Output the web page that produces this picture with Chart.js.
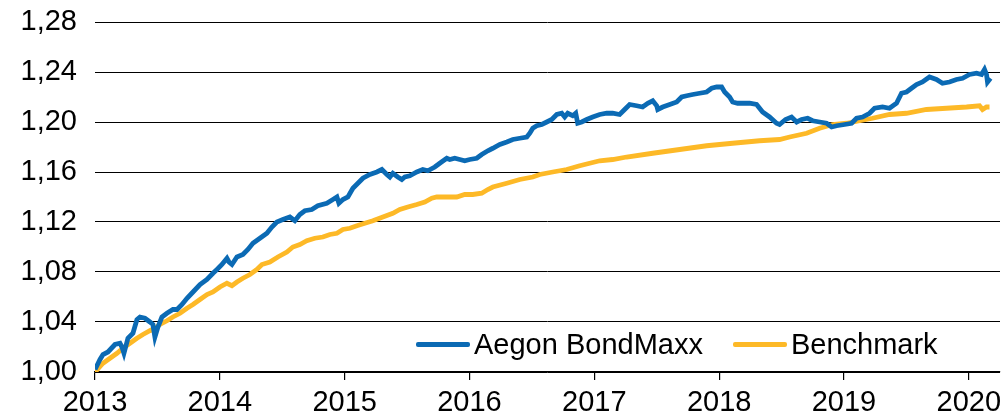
<!DOCTYPE html>
<html>
<head>
<meta charset="utf-8">
<script src="https://cdn.jsdelivr.net/npm/chart.js@4.4.1/dist/chart.umd.min.js"></script>
<style>
  html, body { margin: 0; padding: 0; background: #fff; }
  #wrap { position: relative; width: 1005px; height: 420px; }
  #legend { position: absolute; left: 416px; top: 326px; height: 36px; display: flex; align-items: center;
            font-family: "Liberation Sans", Arial, sans-serif; font-size: 29px; color: #000; white-space: nowrap; }
  .sw { display: inline-block; width: 54px; height: 5px; border-radius: 2px; margin-right: 4px; }
  .it { display: flex; align-items: center; }
</style>
</head>
<body>
<div id="wrap">
  <canvas id="c" width="1005" height="420"></canvas>
  <div id="legend"></div>
</div>
<script>
// ---- data (decimal year, index value) ----
const fundName = "Aegon BondMaxx";
const benchName = "Benchmark";
const yearTicks = [2013, 2014, 2015, 2016, 2017, 2018, 2019, 2020];
const valueTicks = [1.00, 1.04, 1.08, 1.12, 1.16, 1.20, 1.24, 1.28];

const fundX = [2013.000,2013.040,2013.064,2013.104,2013.160,2013.200,2013.216,2013.232,2013.264,2013.304,2013.336,2013.360,2013.400,2013.440,2013.464,2013.480,2013.504,2013.536,2013.576,2013.624,2013.657,2013.697,2013.737,2013.785,2013.841,2013.897,2013.945,2013.977,2014.017,2014.057,2014.073,2014.097,2014.137,2014.185,2014.225,2014.265,2014.321,2014.377,2014.417,2014.457,2014.505,2014.561,2014.601,2014.641,2014.681,2014.737,2014.785,2014.857,2014.906,2014.938,2014.954,2014.986,2015.026,2015.066,2015.106,2015.146,2015.202,2015.258,2015.298,2015.338,2015.362,2015.386,2015.426,2015.458,2015.482,2015.522,2015.578,2015.626,2015.666,2015.722,2015.762,2015.818,2015.842,2015.882,2015.922,2015.962,2016.002,2016.058,2016.098,2016.147,2016.187,2016.243,2016.299,2016.347,2016.403,2016.459,2016.483,2016.507,2016.539,2016.579,2016.619,2016.659,2016.699,2016.739,2016.763,2016.787,2016.827,2016.851,2016.867,2016.899,2016.939,2016.987,2017.043,2017.099,2017.147,2017.203,2017.243,2017.283,2017.339,2017.387,2017.428,2017.468,2017.500,2017.508,2017.548,2017.604,2017.660,2017.700,2017.740,2017.788,2017.844,2017.900,2017.940,2017.980,2018.020,2018.044,2018.084,2018.108,2018.148,2018.188,2018.244,2018.300,2018.348,2018.404,2018.460,2018.484,2018.532,2018.580,2018.621,2018.661,2018.709,2018.749,2018.805,2018.861,2018.901,2018.941,2019.005,2019.061,2019.101,2019.149,2019.205,2019.245,2019.309,2019.365,2019.421,2019.461,2019.501,2019.541,2019.581,2019.629,2019.685,2019.741,2019.789,2019.845,2019.901,2019.950,2020.006,2020.062,2020.102,2020.126,2020.142,2020.150,2020.174];
const fundY = [1.002,1.010,1.014,1.016,1.022,1.023,1.020,1.015,1.027,1.031,1.042,1.044,1.043,1.040,1.038,1.028,1.036,1.044,1.047,1.050,1.050,1.054,1.059,1.064,1.070,1.074,1.079,1.082,1.086,1.091,1.088,1.086,1.092,1.094,1.098,1.103,1.107,1.111,1.116,1.120,1.122,1.124,1.121,1.126,1.129,1.130,1.133,1.135,1.138,1.140,1.135,1.138,1.140,1.147,1.151,1.155,1.158,1.160,1.162,1.158,1.156,1.159,1.156,1.154,1.156,1.157,1.160,1.162,1.161,1.164,1.167,1.171,1.170,1.171,1.170,1.169,1.170,1.171,1.174,1.177,1.179,1.182,1.184,1.186,1.187,1.188,1.191,1.195,1.197,1.198,1.200,1.202,1.206,1.207,1.204,1.207,1.205,1.207,1.199,1.200,1.202,1.204,1.206,1.207,1.207,1.206,1.210,1.214,1.213,1.212,1.215,1.217,1.213,1.210,1.212,1.214,1.216,1.220,1.221,1.222,1.223,1.224,1.227,1.228,1.228,1.224,1.220,1.216,1.215,1.215,1.215,1.214,1.208,1.204,1.199,1.198,1.202,1.204,1.200,1.202,1.203,1.201,1.200,1.199,1.196,1.197,1.198,1.199,1.203,1.204,1.207,1.211,1.212,1.211,1.215,1.223,1.224,1.227,1.230,1.232,1.236,1.234,1.231,1.232,1.234,1.235,1.238,1.239,1.238,1.242,1.238,1.232,1.235];

const benchX = [2013.000,2013.064,2013.120,2013.176,2013.224,2013.280,2013.336,2013.384,2013.440,2013.480,2013.520,2013.576,2013.624,2013.681,2013.737,2013.785,2013.841,2013.897,2013.945,2014.001,2014.057,2014.097,2014.137,2014.185,2014.241,2014.297,2014.337,2014.401,2014.465,2014.537,2014.585,2014.641,2014.697,2014.761,2014.825,2014.882,2014.938,2014.986,2015.042,2015.098,2015.162,2015.226,2015.306,2015.386,2015.442,2015.506,2015.578,2015.642,2015.698,2015.738,2015.818,2015.898,2015.962,2016.026,2016.098,2016.147,2016.187,2016.299,2016.403,2016.507,2016.563,2016.667,2016.779,2016.883,2016.963,2017.043,2017.147,2017.259,2017.468,2017.684,2017.900,2018.108,2018.324,2018.484,2018.565,2018.701,2018.805,2018.909,2019.021,2019.125,2019.229,2019.365,2019.501,2019.661,2019.821,2019.982,2020.086,2020.110,2020.142,2020.166];
const benchY = [1.000,1.007,1.011,1.015,1.019,1.023,1.027,1.030,1.033,1.035,1.038,1.041,1.044,1.047,1.051,1.054,1.058,1.062,1.064,1.068,1.071,1.069,1.072,1.075,1.078,1.082,1.086,1.088,1.092,1.096,1.100,1.102,1.105,1.107,1.108,1.110,1.111,1.114,1.115,1.117,1.119,1.121,1.124,1.127,1.130,1.132,1.134,1.136,1.139,1.140,1.140,1.140,1.142,1.142,1.143,1.146,1.148,1.151,1.154,1.156,1.158,1.160,1.162,1.165,1.167,1.169,1.170,1.172,1.175,1.178,1.181,1.183,1.185,1.186,1.188,1.191,1.195,1.198,1.199,1.201,1.203,1.206,1.207,1.210,1.211,1.212,1.213,1.210,1.212,1.212];

const fundColor = "#0B6AB4";
const benchColor = "#FDB927";

const toPts = (xs, ys) => xs.map((x, i) => ({ x: x, y: ys[i] }));
const FONT = { family: "'Liberation Sans', Arial, sans-serif", size: 29 };

Chart.defaults.font.family = FONT.family;
Chart.defaults.color = "#000";

new Chart(document.getElementById("c"), {
  type: "line",
  data: {
    datasets: [
      { label: fundName, data: toPts(fundX, fundY), borderColor: fundColor, borderWidth: 4.8,
        pointRadius: 0, tension: 0, fill: false },
      { label: benchName, data: toPts(benchX, benchY), borderColor: benchColor, borderWidth: 4.8,
        pointRadius: 0, tension: 0, fill: false }
    ]
  },
  options: {
    responsive: false,
    animation: false,
    layout: { padding: { top: 22, right: 5, bottom: 0, left: 0 } },
    plugins: { legend: { display: false }, tooltip: { enabled: false } },
    scales: {
      x: {
        type: "linear",
        min: 2013, max: 2020.25,
        afterBuildTicks: s => { s.ticks = yearTicks.map(v => ({ value: v })); },
        afterFit: s => { s.height = 48; s.paddingLeft = 0; s.paddingRight = 0; },
        ticks: { font: FONT, color: "#000", padding: 6, maxRotation: 0, autoSkip: false,
                 callback: v => String(v) },
        grid: { drawOnChartArea: false, drawTicks: true, tickLength: 8, color: "#000", lineWidth: 1.2 },
        border: { display: true, color: "#000", width: 1.2 }
      },
      y: {
        min: 1.00, max: 1.28,
        afterBuildTicks: s => { s.ticks = valueTicks.map(v => ({ value: v })); },
        afterFit: s => { s.width = 95; s.paddingTop = 0; s.paddingBottom = 0; },
        ticks: { font: FONT, color: "#000", padding: 18,
                 callback: v => Number(v).toFixed(2).replace(".", ",") },
        grid: { drawTicks: false, color: "#000", lineWidth: 1 },
        border: { display: false }
      }
    }
  }
});

// legend overlay (built from dataset names/colours)
const lg = document.getElementById("legend");
[[fundName, fundColor, 0], [benchName, benchColor, 30]].forEach(([name, col, gap]) => {
  const it = document.createElement("span");
  it.className = "it";
  it.style.marginLeft = gap + "px";
  const sw = document.createElement("span");
  sw.className = "sw";
  sw.style.background = col;
  const tx = document.createElement("span");
  tx.textContent = name;
  it.appendChild(sw); it.appendChild(tx);
  lg.appendChild(it);
});
</script>
</body>
</html>
